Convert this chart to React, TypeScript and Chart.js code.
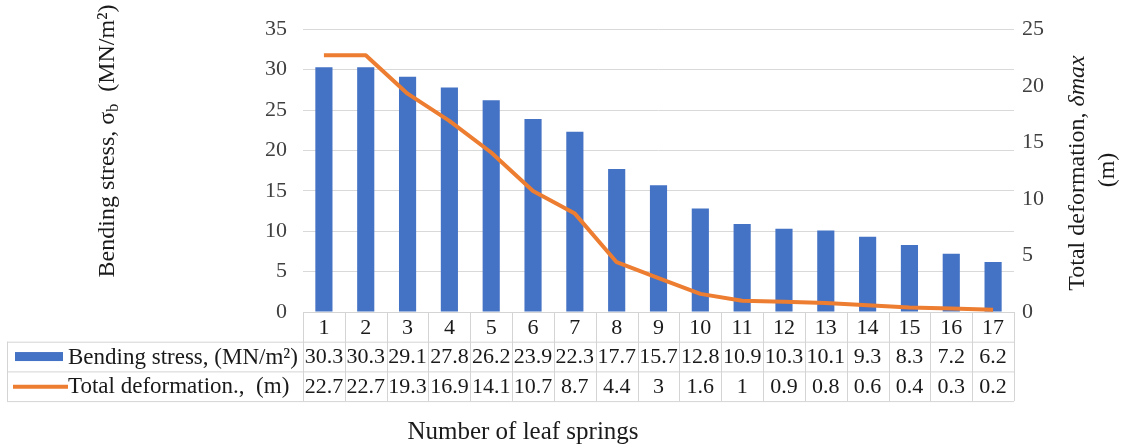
import React, { useEffect, useRef } from "react";
import { Chart, registerables } from "chart.js";

Chart.register(...registerables);

const categories = ["1", "2", "3", "4", "5", "6", "7", "8", "9", "10", "11", "12", "13", "14", "15", "16", "17"];
const bendingStress = [30.3, 30.3, 29.1, 27.8, 26.2, 23.9, 22.3, 17.7, 15.7, 12.8, 10.9, 10.3, 10.1, 9.3, 8.3, 7.2, 6.2];
const totalDeformation = [22.7, 22.7, 19.3, 16.9, 14.1, 10.7, 8.7, 4.4, 3, 1.6, 1, 0.9, 0.8, 0.6, 0.4, 0.3, 0.2];
const seriesNames = ["Bending stress, (MN/m\u00B2)", "Total deformation.,  (m)"];
const xTitle = "Number of leaf springs";

const BLUE = "#4472C4";
const ORANGE = "#ED7D31";
const FONT = '"Liberation Serif", "Times New Roman", serif';
const TEXT = "#1a1a1a";
const BORDER = "#D4D4D4";

const tablePlugin = {
  id: "tablePlugin",
  afterDraw(chart: any) {
    const ctx = chart.ctx as CanvasRenderingContext2D;
    const xs = chart.scales.x;
    const area = chart.chartArea;
    const left = area.left;
    const right = area.right;
    const top = area.bottom;
    const rowH = 29.7;
    const r1 = top + rowH;
    const r2 = r1 + rowH;
    const r3 = r2 + rowH;
    const tableLeft = 7;
    const n = categories.length;
    const colW = (right - left) / n;

    ctx.save();
    ctx.strokeStyle = BORDER;
    ctx.lineWidth = 1;
    ctx.beginPath();
    ctx.moveTo(left, top + 0.5); ctx.lineTo(right, top + 0.5);
    ctx.moveTo(tableLeft, r1 + 0.5); ctx.lineTo(right, r1 + 0.5);
    ctx.moveTo(tableLeft, r2 + 0.5); ctx.lineTo(right, r2 + 0.5);
    ctx.moveTo(tableLeft, r3 + 0.5); ctx.lineTo(right, r3 + 0.5);
    ctx.moveTo(tableLeft + 0.5, r1); ctx.lineTo(tableLeft + 0.5, r3);
    for (let i = 0; i <= n; i++) {
      const x = Math.round(left + i * colW) + 0.5;
      ctx.moveTo(x, top); ctx.lineTo(x, r3);
    }
    ctx.stroke();

    ctx.fillStyle = TEXT;
    ctx.font = `22px ${FONT}`;
    ctx.textAlign = "center";
    ctx.textBaseline = "middle";
    for (let i = 0; i < n; i++) {
      const cx = xs.getPixelForValue(i);
      ctx.fillText(categories[i], cx, (top + r1) / 2 + 1);
      ctx.fillText(String(bendingStress[i]), cx, (r1 + r2) / 2 + 1);
      ctx.fillText(String(totalDeformation[i]), cx, (r2 + r3) / 2 + 1);
    }

    ctx.fillStyle = BLUE;
    ctx.fillRect(15, (r1 + r2) / 2 - 4.5, 48, 9);
    ctx.strokeStyle = ORANGE;
    ctx.lineWidth = 4;
    ctx.beginPath();
    ctx.moveTo(13, (r2 + r3) / 2 + 0.5);
    ctx.lineTo(68, (r2 + r3) / 2 + 0.5);
    ctx.stroke();

    ctx.fillStyle = TEXT;
    ctx.textAlign = "left";
    ctx.font = `23px ${FONT}`;
    ctx.fillText(seriesNames[0], 68, (r1 + r2) / 2 + 1);
    ctx.fillText(seriesNames[1], 68, (r2 + r3) / 2 + 1);

    ctx.font = `25px ${FONT}`;
    ctx.textAlign = "center";
    ctx.fillText(xTitle, 523, 432);

    ctx.save();
    ctx.translate(108, 141);
    ctx.rotate(-Math.PI / 2);
    ctx.textAlign = "left";
    ctx.textBaseline = "middle";
    const f24 = `24px ${FONT}`;
    const f16 = `16px ${FONT}`;
    const p1 = "Bending stress, \u03C3";
    const p2 = "b";
    const p3 = "  (MN/m\u00B2)";
    ctx.font = f24;
    const w1 = ctx.measureText(p1).width;
    const w3 = ctx.measureText(p3).width;
    ctx.font = f16;
    const w2 = ctx.measureText(p2).width;
    let x0 = -(w1 + w2 + w3) / 2;
    ctx.font = f24;
    ctx.fillText(p1, x0, 0);
    x0 += w1;
    ctx.font = f16;
    ctx.fillText(p2, x0, 6);
    x0 += w2;
    ctx.font = f24;
    ctx.fillText(p3, x0, 0);
    ctx.restore();

    ctx.save();
    ctx.translate(1078, 173);
    ctx.rotate(-Math.PI / 2);
    ctx.textBaseline = "middle";
    ctx.textAlign = "left";
    const q1 = "Total deformation, ";
    const q2 = "\u03B4max";
    ctx.font = f24;
    const v1 = ctx.measureText(q1).width;
    ctx.font = `italic 24px ${FONT}`;
    const v2 = ctx.measureText(q2).width;
    const y0 = -(v1 + v2) / 2;
    ctx.font = f24;
    ctx.fillText(q1, y0, 0);
    ctx.font = `italic 24px ${FONT}`;
    ctx.fillText(q2, y0 + v1, 0);
    ctx.restore();

    ctx.save();
    ctx.translate(1108, 170);
    ctx.rotate(-Math.PI / 2);
    ctx.textBaseline = "middle";
    ctx.textAlign = "center";
    ctx.font = f24;
    ctx.fillText("(m)", 0, 0);
    ctx.restore();

    ctx.restore();
  },
};

export default function App() {
  const canvasRef = useRef<HTMLCanvasElement | null>(null);

  useEffect(() => {
    let chart: Chart | null = null;
    let cancelled = false;
    const make = () => {
      if (cancelled || !canvasRef.current) return;
      chart = new Chart(canvasRef.current, {
        type: "bar",
        data: {
          labels: categories,
          datasets: [
            {
              type: "line",
              label: seriesNames[1],
              data: totalDeformation,
              yAxisID: "y1",
              borderColor: ORANGE,
              backgroundColor: ORANGE,
              borderWidth: 4,
              pointRadius: 0,
              tension: 0,
              borderJoinStyle: "round",
              order: 0,
            } as any,
            {
              type: "bar",
              label: seriesNames[0],
              data: bendingStress,
              yAxisID: "y",
              backgroundColor: BLUE,
              categoryPercentage: 1,
              barPercentage: 0.41,
              order: 1,
            } as any,
          ],
        },
        options: {
          responsive: false,
          animation: false,
          layout: { padding: { left: 0, right: 0, top: 25, bottom: 135 } },
          plugins: { legend: { display: false }, tooltip: { enabled: false } },
          scales: {
            x: { display: false },
            y: {
              position: "left",
              min: 0,
              max: 35,
              ticks: { stepSize: 5, padding: 16, color: "#404040", font: { family: FONT, size: 22 } },
              grid: { color: "#D9D9D9", drawTicks: false },
              border: { display: false },
              afterFit: (s: any) => { s.width = 303; },
            },
            y1: {
              position: "right",
              min: 0,
              max: 25,
              ticks: { stepSize: 5, padding: 8, color: "#404040", font: { family: FONT, size: 22 } },
              grid: { display: false, drawTicks: false },
              border: { display: false },
              afterFit: (s: any) => { s.width = 112; },
            },
          },
        },
        plugins: [tablePlugin],
      });
    };
    const fonts = (document as any).fonts;
    if (fonts && fonts.load) {
      Promise.all([
        fonts.load(`22px "Liberation Serif"`),
        fonts.load(`italic 24px "Liberation Serif"`),
      ]).then(make, make);
    } else {
      make();
    }
    return () => {
      cancelled = true;
      if (chart) chart.destroy();
    };
  }, []);

  return (
    <div style={{ position: "absolute", left: 0, top: 0, width: 1126, height: 447, background: "#fff" }}>
      <canvas ref={canvasRef} width={1126} height={447} style={{ display: "block" }} />
    </div>
  );
}
